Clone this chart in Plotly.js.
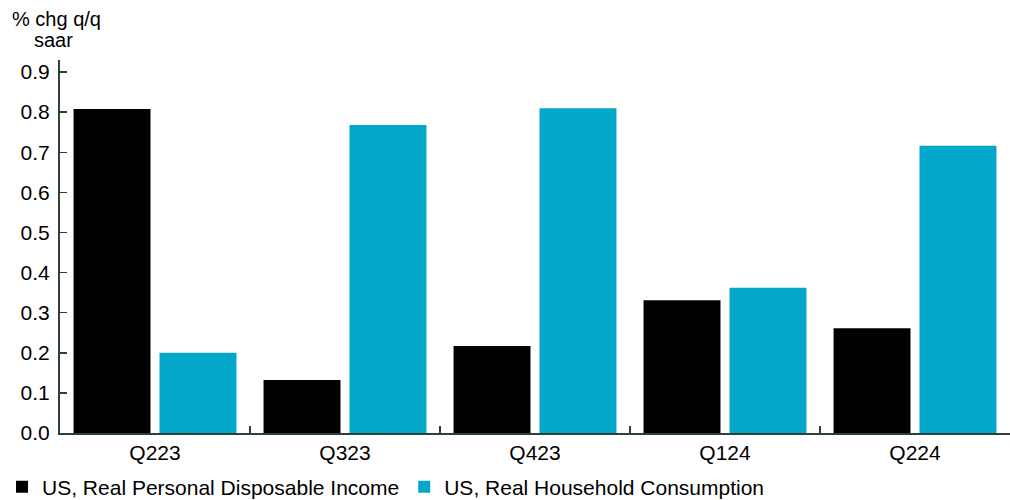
<!DOCTYPE html>
<html><head><meta charset="utf-8">
<script src="https://cdn.plot.ly/plotly-3.0.1.min.js"></script>
<style>html,body{margin:0;padding:0;background:#fff}#chart{width:1010px;height:500px}</style>
</head><body><div id="chart"></div>
<script>
const categories = ["Q223", "Q323", "Q423", "Q124", "Q224"];
const incomeName = "US, Real Personal Disposable Income";
const consumptionName = "US, Real Household Consumption";
const income = [0.808, 0.132, 0.217, 0.331, 0.261];
const consumption = [0.200, 0.768, 0.810, 0.362, 0.716];
const yTicks = [0, 0.1, 0.2, 0.3, 0.4, 0.5, 0.6, 0.7, 0.8, 0.9];
const yTickText = ["0.0", "0.1", "0.2", "0.3", "0.4", "0.5", "0.6", "0.7", "0.8", "0.9"];

const axisColor = "#2f3f3a";
const fam = "Liberation Sans, Arial, sans-serif";
const font = {family: fam, size: 21, color: "#000"};

const traces = [
  {type: "bar", x: categories, y: income, name: incomeName, marker: {color: "#000000"}},
  {type: "bar", x: categories, y: consumption, name: consumptionName, marker: {color: "#02a7ca"}}
];

const layout = {
  width: 1010, height: 500,
  margin: {l: 60, r: 0, t: 60, b: 67},
  paper_bgcolor: "#fff", plot_bgcolor: "#fff",
  font: font,
  barmode: "group", bargap: 0.095, bargroupgap: 0.105,
  showlegend: true,
  legend: {orientation: "h", xref: "container", yref: "container", x: 0.002, y: 0.026, xanchor: "left", yanchor: "middle",
           bgcolor: "rgba(0,0,0,0)",
           font: {family: fam, size: 21, color: "#000"}, itemwidth: 30, tracegroupgap: 0, itemclick: false},
  xaxis: {type: "category", showline: true, linecolor: axisColor, linewidth: 2, ticks: "inside", tickson: "boundaries",
          ticklen: 7, tickcolor: axisColor, tickwidth: 1.5, showgrid: false, zeroline: false,
          tickfont: {family: fam, size: 21, color: "#000"}},
  yaxis: {range: [0, 0.93], showline: true, linecolor: axisColor, linewidth: 2, ticks: "inside", ticklen: 7,
          tickcolor: axisColor, tickwidth: 1.5, showgrid: false, zeroline: false,
          tickvals: yTicks, ticktext: yTickText, ticklabelstandoff: 4,
          tickfont: {family: fam, size: 21, color: "#000"}},
  annotations: [
    {text: "% chg q/q", xref: "paper", yref: "paper", x: -0.053, y: 1, xanchor: "left", yanchor: "bottom", yshift: 28,
     showarrow: false, font: {family: fam, size: 20, color: "#000"}},
    {text: "saar", xref: "paper", yref: "paper", x: -0.03, y: 1, xanchor: "left", yanchor: "bottom", yshift: 7,
     showarrow: false, font: {family: fam, size: 20, color: "#000"}}
  ]
};

Plotly.newPlot("chart", traces, layout, {displayModeBar: false, staticPlot: true});
</script></body></html>
